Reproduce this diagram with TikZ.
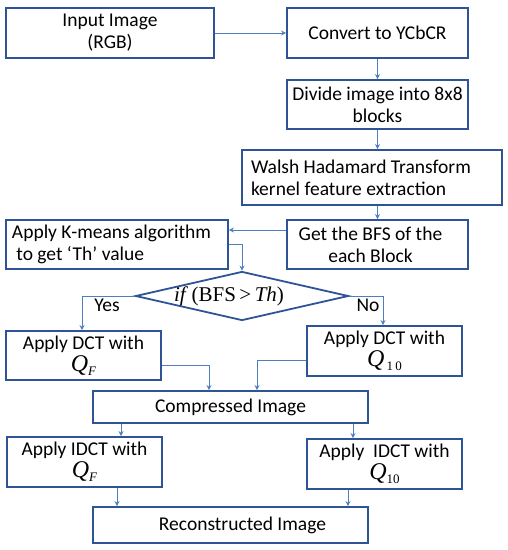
\documentclass[tikz,border=0pt]{standalone}
\usepackage{fontspec}
\setmainfont{Carlito}
\newfontfamily\tmsfont{Liberation Serif}
\usetikzlibrary{shapes.geometric,arrows.meta}
\definecolor{boxblue}{RGB}{47,84,150}
\definecolor{arrowblue}{RGB}{76,126,192}
\tikzset{
  stepbox/.style={draw=boxblue,line width=1.8pt,inner sep=0pt,align=center,
    font=\fontsize{19.5}{22}\selectfont},
  leftbox/.style={stepbox,align=flush left,anchor=center},
  decision/.style={stepbox,shape=diamond,aspect=4.35},
  flow/.style={draw=arrowblue,line width=1pt,-{Stealth[length=5pt,width=5pt]}},
  lbl/.style={font=\fontsize{19.5}{22}\selectfont}
}
\newcommand{\qsub}[1]{{\tmsfont\fontsize{24}{24}\selectfont\itshape Q}\raisebox{-0.45ex}{\tmsfont\fontsize{13}{13}\selectfont #1}}
\begin{document}
\begin{tikzpicture}[x=1pt,y=-1pt]
  \useasboundingbox (0,0) rectangle (508,550);
  % boxes
  \node[stepbox,minimum width=208pt,minimum height=50pt] (input) at (110,33) {Input Image\\(RGB)};
  \node[stepbox,minimum width=181pt,minimum height=50pt] (ycbcr) at (377.5,33) {Convert to YCbCR};
  \node[stepbox,minimum width=181pt,minimum height=49pt] (divide) at (377.5,104.5) {Divide image into 8x8\\blocks};
  \node[leftbox,minimum width=260pt,minimum height=55pt,text width=242pt,inner xsep=9pt] (walsh) at (372,177.5) {Walsh Hadamard Transform\\kernel feature extraction};
  \node[stepbox,minimum width=181pt,minimum height=49pt] (bfs) at (377.5,244.5) {\hspace*{-14pt}Get the BFS of the\\\hspace*{-14pt}each Block};
  \node[leftbox,minimum width=222pt,minimum height=49pt,text width=210pt,inner xsep=6pt] (kmeans) at (117,244.5) {Apply K-means algorithm\\\ to get `Th' value};
  \node[decision,minimum width=213pt,minimum height=49pt] (cond) at (242,296)
    {\hspace*{-26pt}\tmsfont\fontsize{21}{22}\selectfont\textit{if}\,(BFS\,>\,\textit{Th})};
  \node[stepbox,minimum width=155pt,minimum height=49pt] (dctf) at (83.5,355.5) {Apply DCT with\\\qsub{\itshape F}};
  \node[stepbox,minimum width=155pt,minimum height=50pt] (dctten) at (384.5,351) {Apply DCT with\\\qsub{\,1\,0}};
  \node[stepbox,minimum width=275pt,minimum height=32pt] (comp) at (230.5,407) {Compressed Image};
  \node[stepbox,minimum width=155pt,minimum height=50pt] (idctf) at (84.5,462) {Apply IDCT with\\\qsub{\itshape F}};
  \node[stepbox,minimum width=155pt,minimum height=50pt] (idctten) at (384.5,464) {Apply~ IDCT with\\\qsub{10}};
  \node[stepbox,minimum width=275pt,minimum height=36pt] (recon) at (230.5,525) {\hspace*{24pt}Reconstructed Image};
  % labels
  \node[lbl] (yes) at (107,305) {Yes};
  \node[lbl] (no) at (368,305) {No};
  % connectors
  \draw[flow] (input.east) -- (ycbcr.west);
  \draw[flow] (ycbcr.south) -- (divide.north);
  \draw[flow] (divide.south) -- (divide.south |- walsh.north);
  \draw[flow] (bfs.north |- walsh.south) -- (bfs.north);
  \draw[flow] ([yshift=14.5pt]bfs.west) -- ([yshift=14.5pt]kmeans.east);
  \draw[flow] (kmeans.east) -| (cond.north);
  \draw[flow] (cond.west) -| ([xshift=-1.5pt]dctf.north);
  \draw[flow] (cond.east) -| ([xshift=-1.5pt]dctten.north);
  \draw[flow] ([yshift=-9.5pt]dctf.east) -| ([xshift=-21.5pt]comp.north);
  \draw[flow] ([yshift=-9pt]dctten.west) -| ([xshift=26.5pt]comp.north);
  \draw[flow] (comp.south -| 121,0) -- (idctf.north -| 121,0);
  \draw[flow] (comp.south -| 353,0) -- (idctten.north -| 353,0);
  \draw[flow] (idctf.south -| 117,0) -- (recon.north -| 117,0);
  \draw[flow] (idctten.south -| 348,0) -- (recon.north -| 348,0);
\end{tikzpicture}
\end{document}
